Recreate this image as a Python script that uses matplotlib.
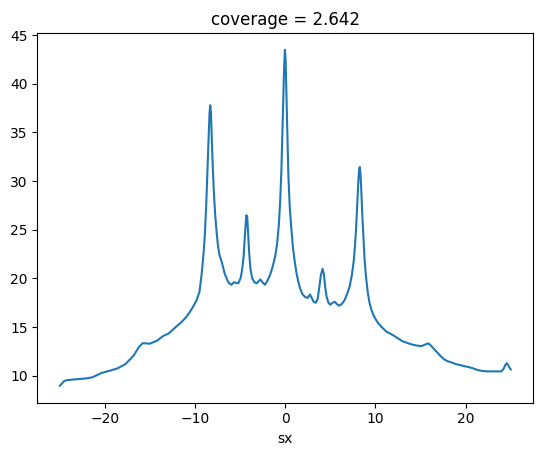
import matplotlib
matplotlib.use("Agg")
import matplotlib.pyplot as plt

sx = [-24.97, -24.5, -24.2, -23.4, -22.3, -21.4, -20.3, -19.5, -18.6, -17.7,
      -16.8, -16.25, -15.8, -15.0, -14.2, -13.5, -12.9, -12.2, -11.5, -11.0,
      -10.6, -10.2, -9.8, -9.5, -9.25, -9.05, -8.9, -8.75, -8.6, -8.48,
      -8.38, -8.3, -8.22, -8.12, -8.0, -7.88, -7.75, -7.6, -7.45, -7.3,
      -7.0, -6.7, -6.4, -6.2, -5.95, -5.7, -5.45, -5.2, -4.95, -4.8,
      -4.6, -4.45, -4.3, -4.2, -4.1, -4.0, -3.85, -3.65, -3.4, -3.15,
      -2.95, -2.75, -2.5, -2.25, -2.0, -1.7, -1.4, -1.1, -0.9, -0.7,
      -0.55, -0.42, -0.32, -0.24, -0.12, -0.03, 0.05, 0.13, 0.22, 0.35,
      0.5, 0.65, 0.85, 1.05, 1.25, 1.45, 1.65, 1.9, 2.2, 2.5,
      2.75, 2.95, 3.15, 3.4, 3.6, 3.8, 3.95, 4.15, 4.3, 4.45,
      4.6, 4.8, 5.0, 5.25, 5.5, 5.75, 6.0, 6.3, 6.6, 6.9,
      7.15, 7.4, 7.6, 7.75, 7.88, 8.0, 8.1, 8.2, 8.27, 8.35,
      8.45, 8.55, 8.66, 8.8, 8.95, 9.15, 9.35, 9.55, 9.8, 10.1,
      10.4, 10.7, 11.2, 11.9, 12.5, 13.0, 13.6, 14.1, 14.6, 15.1,
      15.5, 15.85, 16.1, 16.5, 16.9, 17.25, 17.6, 18.0, 18.5, 18.9,
      19.4, 19.8, 20.3, 20.7, 21.3, 21.8, 22.4, 22.9, 23.5, 23.95,
      24.2, 24.4, 24.56, 24.72, 24.85, 25.0]

coverage = [8.97, 9.45, 9.55, 9.62, 9.7, 9.83, 10.3, 10.5, 10.75, 11.2,
            12.06, 12.9, 13.35, 13.3, 13.6, 14.1, 14.35, 14.95, 15.5, 16.0,
            16.5, 17.1, 17.8, 18.6, 20.5, 22.5, 24.5, 27.5, 31.5, 34.5,
            37.0, 37.8, 37.0, 34.0, 31.0, 28.5, 26.5, 24.8, 23.4, 22.5,
            21.6, 20.5, 19.8, 19.5, 19.35, 19.6, 19.55, 19.5, 20.0, 20.7,
            22.3, 24.6, 26.5, 26.3, 24.5, 22.8, 21.0, 20.0, 19.6, 19.5,
            19.7, 19.9, 19.6, 19.35, 19.7, 20.3, 21.15, 22.3, 23.5, 25.5,
            28.0, 31.0, 34.5, 37.6, 41.5, 43.5, 42.5, 39.3, 35.5, 30.8,
            27.5, 25.5, 23.3, 21.8, 20.6, 19.7, 19.0, 18.4, 18.1, 18.0,
            18.35, 18.0, 17.6, 17.5, 17.9, 19.2, 20.3, 21.0, 20.4, 19.0,
            18.1, 17.5, 17.3, 17.5, 17.6, 17.35, 17.2, 17.4, 17.8, 18.5,
            19.2, 20.4, 21.8, 23.5, 25.5, 27.8, 29.8, 31.2, 31.45, 30.8,
            28.8, 26.5, 24.5, 22.0, 20.3, 18.6, 17.5, 16.8, 16.2, 15.7,
            15.3, 15.0, 14.55, 14.2, 13.85, 13.55, 13.35, 13.2, 13.1, 13.05,
            13.2, 13.33, 13.15, 12.75, 12.35, 12.0, 11.7, 11.5, 11.35, 11.2,
            11.1, 11.0, 10.9, 10.8, 10.6, 10.5, 10.45, 10.45, 10.45, 10.45,
            10.7, 11.1, 11.3, 11.1, 10.85, 10.65]

title_text = "coverage = 2.642"
xlabel_text = "sx"

fig = plt.figure(figsize=(5.43, 4.55), dpi=100)
ax = fig.add_axes([0.0687, 0.1152, 0.9134, 0.8123])
ax.plot(sx, coverage, color="#1f77b4", linewidth=1.5)
ax.set_title(title_text)
ax.set_xlabel(xlabel_text)
fig.savefig("out.png", dpi=100)
